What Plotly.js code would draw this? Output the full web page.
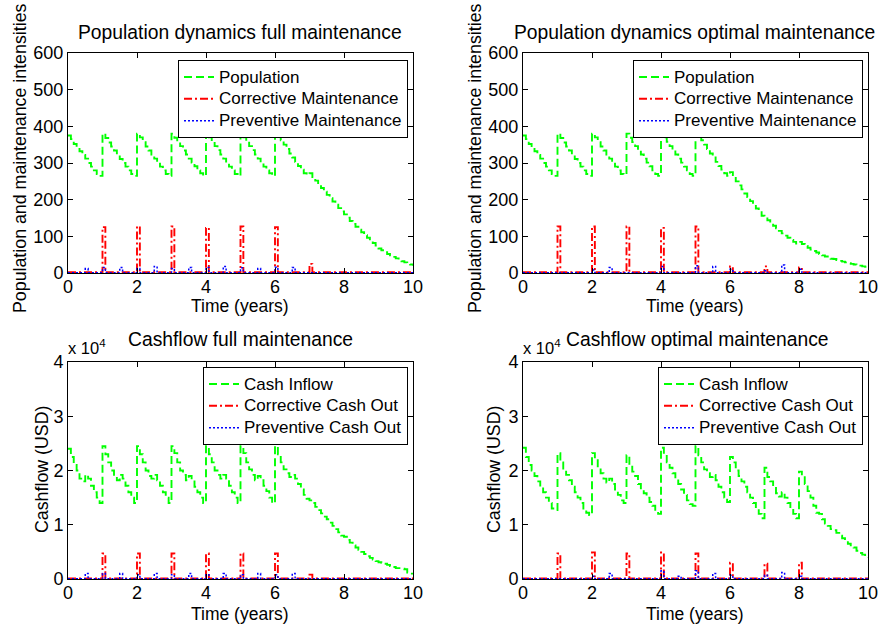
<!DOCTYPE html>
<html><head><meta charset="utf-8">
<script src="https://cdn.plot.ly/plotly-3.0.1.min.js"></script>
<style>html,body{margin:0;padding:0;background:#fff}#chart{width:879px;height:626px}</style>
</head><body><div id="chart"></div>
<script>
// ---------- DATA (monthly samples, t = 0 .. 10 years) ----------
const popFull = [
  375,365,352,342,332,322,312,300,290,280,270,265,
  380,368,356,345,334,322,311,300,290,280,270,265,
  380,370,357,345,334,323,312,301,290,280,270,265,
  380,369,357,346,334,323,312,301,291,280,272,265,
  382,370,358,346,335,323,312,301,290,280,270,265,
  382,370,358,346,335,323,312,301,290,280,272,265,
  382,372,362,350,338,326,315,303,292,282,272,268,
  272,262,252,242,232,222,213,204,195,186,177,168,
  160,151,142,134,126,118,111,103,96,89,82,75,
  67,62,57,52,48,44,40,36,32,29,26,23,
  20];
const popOpt = [
  375,365,352,342,332,322,312,300,290,280,270,265,
  380,368,356,345,334,322,311,300,290,280,270,265,
  380,370,357,345,334,323,312,301,290,280,270,268,
  380,369,357,346,334,323,312,301,291,280,270,265,
  382,370,358,346,335,323,312,301,290,280,270,265,
  382,372,362,350,338,326,315,303,292,282,272,265,
  275,262,250,239,228,217,207,196,186,176,166,156,
  152,144,136,129,122,115,108,102,96,90,85,80,
  85,79,74,69,64,60,56,52,48,45,42,39,
  38,35,33,31,29,27,25,23,21,20,18,17,
  16];
// corrective / preventive maintenance intensities (event times, step values)
const corrFullT = [0,1,1.083,2,2.083,3,3.083,4,4.083,5,5.083,6,6.083,7,7.083,10];
const corrFullV = [2,125,2,127,2,127,2,123,2,127,2,125,2,25,2,2];
const corrOptT  = [0,1,1.083,2,2.083,3,3.083,4,4.083,5,5.083,6,6.083,7,7.083,8,8.083,10];
const corrOptV  = [2,127,2,127,2,127,2,123,2,127,2,18,2,18,2,15,2,2];
const prevFullT = [0,0.5,0.583,1,1.083,1.5,1.583,2,2.083,2.5,2.583,3,3.083,3.5,3.583,4,4.083,4.5,4.583,5,5.083,5.5,5.583,6,6.083,6.5,6.583,10];
const prevFullV = [1,12,1,15,1,15,1,12,1,18,1,12,1,15,1,15,1,18,1,14,1,12,1,16,1,15,1,1];
const prevOptT  = [0,2,2.083,2.5,2.583,4,4.083,5,5.083,5.5,5.583,6,6.083,7,7.083,7.5,7.583,8,8.083,10];
const prevOptV  = [1,8,1,15,1,18,1,20,1,18,1,10,1,6,1,22,1,10,1,1];

// cashflow, in units of 10^4 USD
const cashInFull = [
  2.40,2.25,2.10,2.00,1.85,1.80,1.92,1.85,1.72,1.60,1.50,1.40,
  2.45,2.30,2.15,2.00,1.90,1.82,1.92,1.85,1.72,1.60,1.50,1.40,
  2.45,2.30,2.15,2.00,1.90,1.85,1.92,1.82,1.72,1.60,1.50,1.40,
  2.45,2.32,2.15,2.00,1.92,1.82,1.90,1.82,1.70,1.60,1.50,1.40,
  2.45,2.30,2.15,2.00,1.92,1.85,1.92,1.85,1.72,1.60,1.50,1.40,
  2.45,2.32,2.15,2.02,1.92,1.82,1.90,1.82,1.72,1.62,1.50,1.40,
  2.45,2.30,2.15,2.02,1.95,1.88,1.92,1.85,1.75,1.65,1.55,1.48,
  1.45,1.40,1.33,1.27,1.21,1.15,1.10,1.04,0.98,0.92,0.86,0.80,
  0.78,0.72,0.67,0.62,0.58,0.54,0.50,0.46,0.42,0.39,0.36,0.33,
  0.31,0.30,0.28,0.26,0.24,0.22,0.20,0.20,0.19,0.18,0.12,0.10,
  0.10];
const cashInOpt = [
  2.42,2.25,2.10,2.00,1.90,1.80,1.70,1.60,1.50,1.40,1.30,1.27,
  2.32,2.15,2.00,1.92,1.82,1.70,1.60,1.50,1.40,1.30,1.22,1.18,
  2.32,2.22,2.05,1.95,1.85,1.78,1.85,1.75,1.65,1.55,1.45,1.40,
  2.28,2.10,1.98,1.90,1.75,1.65,1.58,1.50,1.42,1.35,1.25,1.20,
  2.42,2.30,2.15,2.05,1.95,1.85,1.75,1.65,1.55,1.45,1.38,1.35,
  2.45,2.28,2.15,2.02,1.95,1.88,1.92,1.82,1.70,1.60,1.50,1.42,
  2.25,2.15,2.00,1.90,1.80,1.70,1.60,1.50,1.40,1.30,1.20,1.12,
  2.05,1.88,1.80,1.70,1.58,1.52,1.60,1.50,1.40,1.30,1.20,1.12,
  1.98,1.90,1.75,1.62,1.50,1.35,1.22,1.20,1.10,1.02,0.98,0.92,
  0.90,0.85,0.80,0.75,0.70,0.65,0.60,0.58,0.52,0.48,0.45,0.42,
  0.40];
const corrCashFullT = [0,1,1.083,2,2.083,3,3.083,4,4.083,5,5.083,6,6.083,7,7.083,10];
const corrCashFullV = [0.01,0.47,0.01,0.47,0.01,0.47,0.01,0.47,0.01,0.47,0.01,0.47,0.01,0.08,0.01,0.01];
const corrCashOptT  = [0,1,1.083,2,2.083,3,3.083,4,4.083,5,5.083,6,6.083,7,7.083,8,8.083,10];
const corrCashOptV  = [0.01,0.47,0.01,0.49,0.01,0.47,0.01,0.49,0.01,0.47,0.01,0.30,0.01,0.28,0.01,0.30,0.01,0.01];
const prevCashFullT = [0,0.5,0.583,1,1.083,1.5,1.583,2,2.083,2.5,2.583,3,3.083,3.5,3.583,4,4.083,4.5,4.583,5,5.083,5.5,5.583,6,6.083,6.5,6.583,10];
const prevCashFullV = [0.005,0.10,0.005,0.10,0.005,0.10,0.005,0.08,0.005,0.10,0.005,0.08,0.005,0.10,0.005,0.08,0.005,0.10,0.005,0.08,0.005,0.10,0.005,0.08,0.005,0.10,0.005,0.005];
const prevCashOptT  = [0,2,2.083,2.5,2.583,4,4.083,4.5,4.583,5,5.083,5.5,5.583,6,6.083,7,7.083,7.5,7.583,8,8.083,10];
const prevCashOptV  = [0.005,0.05,0.005,0.10,0.005,0.15,0.005,0.05,0.005,0.15,0.005,0.10,0.005,0.07,0.005,0.07,0.005,0.12,0.005,0.05,0.005,0.005];

const popNames  = ['Population','Corrective Maintenance','Preventive Maintenance'];
const cashNames = ['Cash Inflow','Corrective Cash Out','Preventive Cash Out'];
const titles = ['Population dynamics full maintenance','Population dynamics optimal maintenance',
                'Cashflow full maintenance','Cashflow optimal maintenance'];
const xTitle = 'Time (years)';
const yTitles = ['Population and maintenance intensities','Cashflow (USD)'];

// ---------- STYLE ----------
const W = 879, H = 626;
const FONT = 'Liberation Sans, Arial, Helvetica, sans-serif';
const GREEN = {color:'#00ff00', width:1.9, dash:'8px,4px', shape:'hv'};
const RED   = {color:'#ff0000', width:1.9, dash:'8px,3px,2px,3px', shape:'hv'};
const BLUE  = {color:'#0000ff', width:1.5, dash:'2px,2px', shape:'hv'};
const px = v => v / W, py = v => 1 - v / H;
const legText = s => '<span style="font-size:17px">' + s + '</span>';

function monthly(y, name, line, ax, lg) {
  return {type:'scatter', mode:'lines', x0:0, dx:1/12, y:y, name:legText(name), line:line,
          xaxis:'x'+ax, yaxis:'y'+ax, legend:lg};
}
function events(t, v, name, line, ax, lg) {
  return {type:'scatter', mode:'lines', x:t, y:v, name:legText(name), line:line,
          xaxis:'x'+ax, yaxis:'y'+ax, legend:lg};
}
const traces = [
  monthly(popFull, popNames[0], GREEN, '', 'legend'),
  events(corrFullT, corrFullV, popNames[1], RED, '', 'legend'),
  events(prevFullT, prevFullV, popNames[2], BLUE, '', 'legend'),
  monthly(popOpt, popNames[0], GREEN, '2', 'legend2'),
  events(corrOptT, corrOptV, popNames[1], RED, '2', 'legend2'),
  events(prevOptT, prevOptV, popNames[2], BLUE, '2', 'legend2'),
  monthly(cashInFull, cashNames[0], GREEN, '3', 'legend3'),
  events(corrCashFullT, corrCashFullV, cashNames[1], RED, '3', 'legend3'),
  events(prevCashFullT, prevCashFullV, cashNames[2], BLUE, '3', 'legend3'),
  monthly(cashInOpt, cashNames[0], GREEN, '4', 'legend4'),
  events(corrCashOptT, corrCashOptV, cashNames[1], RED, '4', 'legend4'),
  events(prevCashOptT, prevCashOptV, cashNames[2], BLUE, '4', 'legend4'),
];

function xax(l, r, anchor) {
  return {domain:[px(l), px(r)], anchor:anchor, range:[0,10], tickvals:[0,2,4,6,8,10],
    ticks:'inside', ticklen:5, tickcolor:'#000', showline:true, linecolor:'#000', linewidth:1,
    mirror:'allticks', showgrid:false, zeroline:false, tickfont:{size:18, color:'#000'},
    ticklabelstandoff:-3, fixedrange:true};
}
function yax(t, b, anchor, range, tv) {
  return {domain:[py(b), py(t)], anchor:anchor, range:range, tickvals:tv,
    ticks:'inside', ticklen:5, tickcolor:'#000', showline:true, linecolor:'#000', linewidth:1,
    mirror:'allticks', showgrid:false, zeroline:false, tickfont:{size:18, color:'#000'}, fixedrange:true};
}
function leg(r, t) {
  return {x:px(r), y:py(t), xanchor:'right', yanchor:'top', bgcolor:'#fff', bordercolor:'#000',
          borderwidth:1, font:{size:14.5, color:'#000', family:FONT}, tracegroupgap:0, itemwidth:30};
}
function ann(x, y, text, size, extra) {
  return Object.assign({xref:'paper', yref:'paper', x:px(x), y:py(y), text:text, showarrow:false,
    xanchor:'center', yanchor:'middle', font:{size:size, color:'#000', family:FONT}}, extra||{});
}

const yPop = [0,600], yPopT = [0,100,200,300,400,500,600];
const yCash = [0,4], yCashT = [0,1,2,3,4];

const layout = {
  width:W, height:H, margin:{l:0, r:0, t:0, b:0},
  paper_bgcolor:'#fff', plot_bgcolor:'#fff',
  font:{family:FONT, size:17, color:'#000'},
  xaxis: xax(68, 413, 'y'),  yaxis: yax(53, 273, 'x', yPop, yPopT),
  xaxis2:xax(523, 868, 'y2'), yaxis2:yax(53, 273, 'x2', yPop, yPopT),
  xaxis3:xax(68, 413, 'y3'), yaxis3:yax(362, 579, 'x3', yCash, yCashT),
  xaxis4:xax(523, 868, 'y4'), yaxis4:yax(362, 579, 'x4', yCash, yCashT),
  legend:leg(408, 60), legend2:leg(863, 60), legend3:leg(408, 367), legend4:leg(863, 367),
  showlegend:true,
  annotations:[
    ann(240, 32, titles[0], 19.3), ann(694, 32, titles[1], 19.3),
    ann(240, 340, titles[2], 19.3), ann(697, 340, titles[3], 19.3),
    ann(240, 306, xTitle, 17.5), ann(695, 306, xTitle, 17.5),
    ann(240, 614, xTitle, 17.5), ann(695, 614, xTitle, 17.5),
    ann(20, 158, yTitles[0], 17.8, {textangle:-90}), ann(475, 158, yTitles[0], 17.8, {textangle:-90}),
    ann(42, 470, yTitles[1], 17.8, {textangle:-90}), ann(494, 470, yTitles[1], 17.8, {textangle:-90}),
    ann(66, 347, 'x 10<sup>4</sup>', 16.5, {xanchor:'left'}), ann(521, 347, 'x 10<sup>4</sup>', 16.5, {xanchor:'left'})
  ]
};
Plotly.newPlot('chart', traces, layout, {staticPlot:true, displayModeBar:false});
</script></body></html>
